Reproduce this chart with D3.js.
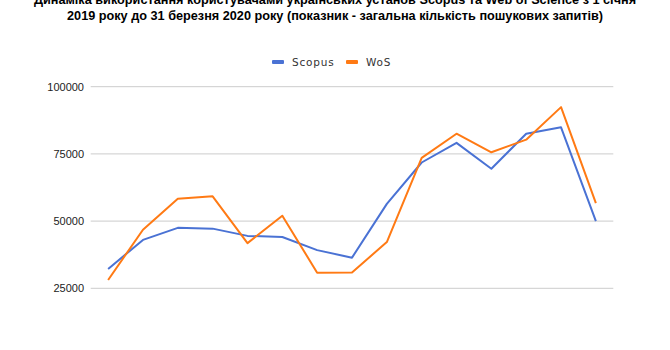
<!DOCTYPE html>
<html>
<head>
<meta charset="UTF-8">
<style>
  body { margin: 0; background: #fff; }
  svg { display: block; }
</style>
</head>
<body>
<svg></svg>
<script src="https://d3js.org/d3.v7.min.js"></script>
<script>
// months Jan 2019 .. Mar 2020
const months = ["2019-01", "2019-02", "2019-03", "2019-04", "2019-05", "2019-06", "2019-07", "2019-08",
    "2019-09", "2019-10", "2019-11", "2019-12", "2020-01", "2020-02", "2020-03"];
const scopus = [32200, 43000, 47500, 47200, 44500, 44100, 39200, 36400, 56400, 71800, 79100, 69500, 82500, 84900, 50000];
const wos = [28100, 46800, 58300, 59200, 41800, 52000, 30800, 30900, 42200, 73500, 82500, 75600, 80300, 92400, 56700];
const yTicks = [25000, 50000, 75000, 100000];
const titleLines = [
    "Динаміка використання користувачами українських установ Scopus та Web of Science з 1 січня",
    "2019 року до 31 березня 2020 року (показник - загальна кількість пошукових запитів)"
];

let width = 670, height = 350;
let svg = d3.select("svg").attr("width", width).attr("height", height);

let x = d3.scaleBand().domain(months).range([90.7, 613.3]);
let y = d3.scaleLinear().domain([25000, 100000]).range([288.3, 86.7]);

// title (first line is cut at the top edge, as in the original)
svg.append("g").selectAll("text")
    .data(titleLines)
    .enter()
    .append("text")
    .attr("x", width / 2)
    .attr("y", (d, i) => 4 + i * 16)
    .attr("text-anchor", "middle")
    .style("font-family", "'Liberation Sans', Arial, sans-serif")
    .style("font-size", "12.7px")
    .style("font-weight", "bold")
    .style("fill", "#000")
    .text(d => d);

// grid + y labels
let grid = svg.append("g");
grid.selectAll("line")
    .data(yTicks)
    .enter()
    .append("line")
    .attr("x1", 90.7)
    .attr("x2", 613.3)
    .attr("y1", d => y(d))
    .attr("y2", d => y(d))
    .attr("stroke", "#cccccc")
    .attr("stroke-width", 1);
grid.selectAll("text")
    .data(yTicks)
    .enter()
    .append("text")
    .attr("x", 84)
    .attr("y", d => y(d))
    .attr("dy", "0.35em")
    .attr("text-anchor", "end")
    .style("font-family", "'Liberation Sans', Arial, sans-serif")
    .style("font-size", "11px")
    .style("fill", "#222")
    .text(d => d);

let line = d3.line()
    .x((d, i) => x(months[i]) + x.bandwidth() / 2)
    .y(d => y(d));

let series = [
    { name: "Scopus", values: scopus, color: "#4a72d4" },
    { name: "WoS", values: wos, color: "#ff7a14" }
];

svg.append("g").selectAll("path")
    .data(series)
    .enter()
    .append("path")
    .attr("d", d => line(d.values))
    .attr("fill", "none")
    .attr("stroke", d => d.color)
    .attr("stroke-width", 2)
    .attr("stroke-linejoin", "round");

// legend
let legendX = [272, 346];
let legend = svg.append("g").selectAll("g")
    .data(series)
    .enter()
    .append("g")
    .attr("transform", (d, i) => "translate(" + legendX[i] + ",62)");
legend.append("rect")
    .attr("x", 0)
    .attr("y", -2)
    .attr("width", 12)
    .attr("height", 4)
    .attr("rx", 1)
    .style("fill", d => d.color);
legend.append("text")
    .attr("x", 20)
    .attr("y", 0)
    .attr("dy", "0.35em")
    .style("font-family", "'DejaVu Sans', sans-serif")
    .style("font-size", "10.5px")
    .style("letter-spacing", "0.8px")
    .style("fill", "#333")
    .text(d => d.name);
</script>
</body>
</html>
